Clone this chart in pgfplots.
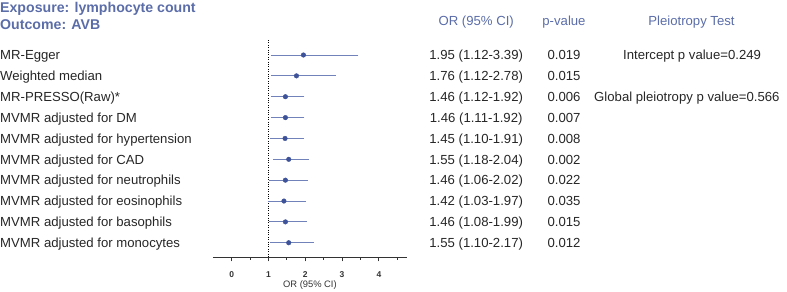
\documentclass[border=0pt]{standalone}
\usepackage{fontspec}
\setmainfont{Liberation Sans}
\usepackage{pgfplots}
\pgfplotsset{compat=1.18}
\usepackage{pgfplotstable}

\definecolor{hdrblue}{HTML}{5B6DA8}
\definecolor{barblue}{HTML}{7182BA}
\definecolor{dotblue}{HTML}{3D5298}
\definecolor{axgray}{HTML}{333333}

% row (negative, top to bottom), OR, minus, plus
\pgfplotstableread{
row   or    em    ep
-1    1.95  0.83  1.44
-2    1.76  0.64  1.02
-3    1.46  0.34  0.46
-4    1.46  0.35  0.46
-5    1.45  0.35  0.46
-6    1.55  0.37  0.49
-7    1.46  0.40  0.56
-8    1.42  0.39  0.55
-9    1.46  0.38  0.53
-10   1.55  0.45  0.62
}\ordata

\newcommand{\rowfont}{\fontsize{13.2}{15}\selectfont}

\begin{document}
\begin{tikzpicture}
\begin{axis}[
    x=36.8bp, y=20.86bp,
    xmin=-0.508, xmax=4.76,
    ymin=-10.70, ymax=-0.281,
    enlargelimits=false,
    clip=false,
    axis x line*=bottom,
    hide y axis,
    x axis line style={axgray, line width=0.9bp},
    xtick={0,1,2,3,4},
    minor xtick={0.5,1.5,2.5,3.5,4.5},
    tick align=outside,
    major tick length=4bp,
    minor tick length=2.5bp,
    every tick/.style={axgray, line width=0.9bp},
    /pgf/number format/assume math mode=true,
    xticklabel style={anchor=base, yshift=-16bp, text=axgray,
        font=\bfseries\fontsize{8.5}{10}\selectfont},
]
% reference line at OR = 1
\draw[black, line width=1.1bp, dash pattern=on 1bp off 1.4bp]
    (axis cs:1,-0.281) -- (axis cs:1,-10.70);

\addplot[only marks, mark=*, mark size=2.3bp, color=dotblue,
    error bars/.cd, x dir=both, x explicit,
    error bar style={barblue, line width=0.9bp},
    error mark options={barblue, line width=0.8bp, mark size=2bp}]
    table[x=or, y=row, x error minus=em, x error plus=ep] {\ordata};

% title
\node[anchor=base west, inner sep=0, text=hdrblue,
      font=\bfseries\fontsize{14.2}{16}\selectfont] at (axis cs:-6.296,1.028) {Exposure: lymphocyte count};
\node[anchor=base west, inner sep=0, text=hdrblue,
      font=\bfseries\fontsize{14.2}{16}\selectfont] at (axis cs:-6.296,0.232) {Outcome: AVB};

% column headers
\node[anchor=base, inner sep=0, text=hdrblue, font=\rowfont] at (axis cs:6.644,0.414) {OR (95\% CI)};
\node[anchor=base, inner sep=0, text=hdrblue, font=\rowfont] at (axis cs:9.03,0.414) {p-value};
\node[anchor=base, inner sep=0, text=hdrblue, font=\rowfont] at (axis cs:12.495,0.414) {Pleiotropy Test};

% rows
\begin{scope}[every node/.style={inner sep=0, font=\rowfont, text=black!85, yshift=-4.7bp}]
\node[anchor=base west] at (axis cs:-6.296,-1) {MR-Egger};
\node[anchor=base west] at (axis cs:-6.296,-2) {Weighted median};
\node[anchor=base west] at (axis cs:-6.296,-3) {MR-PRESSO(Raw)*};
\node[anchor=base west] at (axis cs:-6.296,-4) {MVMR adjusted for DM};
\node[anchor=base west] at (axis cs:-6.296,-5) {MVMR adjusted for hypertension};
\node[anchor=base west] at (axis cs:-6.296,-6) {MVMR adjusted for CAD};
\node[anchor=base west] at (axis cs:-6.296,-7) {MVMR adjusted for neutrophils};
\node[anchor=base west] at (axis cs:-6.296,-8) {MVMR adjusted for eosinophils};
\node[anchor=base west] at (axis cs:-6.296,-9) {MVMR adjusted for basophils};
\node[anchor=base west] at (axis cs:-6.296,-10) {MVMR adjusted for monocytes};

\node[anchor=base] at (axis cs:6.644,-1) {1.95 (1.12-3.39)};
\node[anchor=base] at (axis cs:6.644,-2) {1.76 (1.12-2.78)};
\node[anchor=base] at (axis cs:6.644,-3) {1.46 (1.12-1.92)};
\node[anchor=base] at (axis cs:6.644,-4) {1.46 (1.11-1.92)};
\node[anchor=base] at (axis cs:6.644,-5) {1.45 (1.10-1.91)};
\node[anchor=base] at (axis cs:6.644,-6) {1.55 (1.18-2.04)};
\node[anchor=base] at (axis cs:6.644,-7) {1.46 (1.06-2.02)};
\node[anchor=base] at (axis cs:6.644,-8) {1.42 (1.03-1.97)};
\node[anchor=base] at (axis cs:6.644,-9) {1.46 (1.08-1.99)};
\node[anchor=base] at (axis cs:6.644,-10) {1.55 (1.10-2.17)};

\node[anchor=base] at (axis cs:9.03,-1) {0.019};
\node[anchor=base] at (axis cs:9.03,-2) {0.015};
\node[anchor=base] at (axis cs:9.03,-3) {0.006};
\node[anchor=base] at (axis cs:9.03,-4) {0.007};
\node[anchor=base] at (axis cs:9.03,-5) {0.008};
\node[anchor=base] at (axis cs:9.03,-6) {0.002};
\node[anchor=base] at (axis cs:9.03,-7) {0.022};
\node[anchor=base] at (axis cs:9.03,-8) {0.035};
\node[anchor=base] at (axis cs:9.03,-9) {0.015};
\node[anchor=base] at (axis cs:9.03,-10) {0.012};

\node[anchor=base] at (axis cs:12.51,-1) {Intercept p value=0.249};
\node[anchor=base] at (axis cs:12.37,-3) {Global pleiotropy p value=0.566};
\end{scope}

% x axis label
\node[anchor=base, inner sep=0, text=axgray, font=\fontsize{9.4}{11}\selectfont]
    at (axis cs:2.126,-12.146) {OR (95\% CI)};

\coordinate (bbsw) at (axis cs:-6.296,-12.314);
\coordinate (bbne) at (axis cs:15.09,1.637);
\end{axis}
\pgfresetboundingbox
\useasboundingbox (bbsw) rectangle (bbne);
\end{tikzpicture}
\end{document}
